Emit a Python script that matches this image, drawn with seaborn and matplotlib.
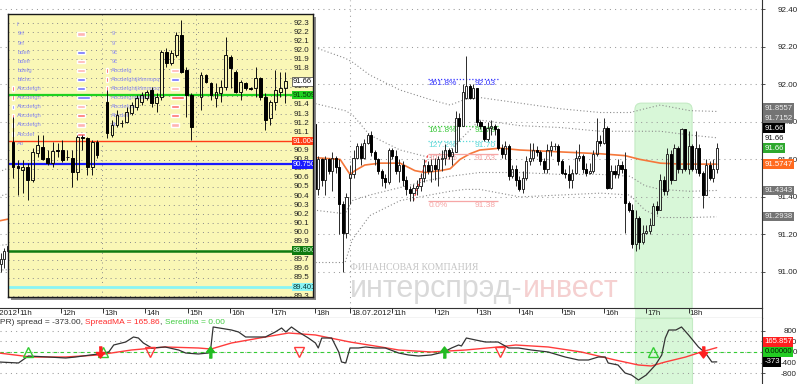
# -*- coding: utf-8 -*-
# Интерспрэд: 5-мин свечи 17-18.07.2012, полосы, фибо, индикатор спреда
import numpy as np
import seaborn as sns
import matplotlib.pyplot as plt
from matplotlib.patches import FancyBboxPatch, Rectangle
from matplotlib.transforms import blended_transform_factory

# ---------------- данные ----------------
# 17.07 начало сессии (видно у левого края)
early_start = "17.07 10:35"
early_open = [91.04, 91.07, 91.11]
early_high = [91.10, 91.13, 91.16]
early_low = [91.00, 91.02, 91.08]
early_close = [91.07, 91.11, 91.14]

# 17.07 конец сессии
late_start = "17.07 18:00"
late_open = [91.79, 91.44, 91.60, 91.49, 91.60, 91.54, 91.61, 91.56, 91.36, 91.21]
late_high = [91.81, 91.62, 91.61, 91.62, 91.61, 91.64, 91.62, 91.60, 91.38, 91.42]
late_low = [91.43, 91.41, 91.46, 91.41, 91.52, 91.43, 91.53, 91.20, 91.00, 91.18]
late_close = [91.44, 91.60, 91.49, 91.60, 91.54, 91.61, 91.56, 91.36, 91.21, 91.40]

# 18.07 вся сессия
day2_start = "18.07 10:00"
day2_open = [91.50, 91.52, 91.61, 91.67, 91.61, 91.69, 91.73, 91.64, 91.60, 91.54, 91.50, 91.48,
             91.65, 91.62, 91.54, 91.57, 91.49, 91.44, 91.42, 91.45, 91.46, 91.50, 91.57, 91.54,
             91.57, 91.55, 91.60, 91.61, 91.65, 91.62, 91.64, 91.82, 91.78, 91.93, 91.99, 91.93,
             91.98, 91.80, 91.78, 91.71, 91.77, 91.78, 91.76, 91.66, 91.63, 91.67, 91.51, 91.55,
             91.49, 91.44, 91.50, 91.59, 91.61, 91.65, 91.64, 91.59, 91.55, 91.65, 91.67, 91.67,
             91.59, 91.53, 91.52, 91.49, 91.53, 91.61, 91.62, 91.55, 91.53, 91.54, 91.63, 91.70,
             91.69, 91.77, 91.45, 91.54, 91.52, 91.57, 91.55, 91.37, 91.33, 91.15, 91.29, 91.16,
             91.21, 91.22, 91.25, 91.35, 91.33, 91.49, 91.43, 91.63, 91.49, 91.66, 91.55, 91.76,
             91.55, 91.67, 91.55, 91.66, 91.53, 91.41, 91.57, 91.50, 91.55]
day2_high = [91.57, 91.65, 91.69, 91.69, 91.71, 91.74, 91.75, 91.65, 91.61, 91.55, 91.52, 91.66,
             91.66, 91.65, 91.60, 91.59, 91.51, 91.46, 91.47, 91.49, 91.53, 91.60, 91.59, 91.60,
             91.61, 91.62, 91.65, 91.68, 91.66, 91.66, 91.86, 91.85, 92.00, 92.15, 92.00, 92.00,
             91.98, 91.81, 91.78, 91.80, 91.81, 91.79, 91.77, 91.68, 91.70, 91.68, 91.57, 91.57,
             91.51, 91.54, 91.62, 91.69, 91.69, 91.67, 91.65, 91.61, 91.68, 91.70, 91.69, 91.68,
             91.60, 91.55, 91.57, 91.55, 91.65, 91.68, 91.63, 91.58, 91.58, 91.65, 91.82, 91.73,
             91.82, 91.78, 91.57, 91.57, 91.60, 91.59, 91.64, 91.38, 91.36, 91.33, 91.30, 91.25,
             91.25, 91.29, 91.37, 91.38, 91.52, 91.51, 91.66, 91.65, 91.68, 91.67, 91.77, 91.76,
             91.75, 91.68, 91.75, 91.68, 91.54, 91.60, 91.59, 91.60, 91.69]
day2_low = [91.36, 91.50, 91.60, 91.57, 91.60, 91.68, 91.62, 91.57, 91.52, 91.46, 91.45, 91.47,
            91.60, 91.52, 91.48, 91.46, 91.41, 91.38, 91.38, 91.41, 91.43, 91.48, 91.52, 91.48,
            91.49, 91.46, 91.54, 91.57, 91.60, 91.57, 91.64, 91.70, 91.78, 91.92, 91.92, 91.92,
            91.78, 91.76, 91.70, 91.70, 91.73, 91.73, 91.65, 91.61, 91.60, 91.49, 91.50, 91.46,
            91.43, 91.42, 91.49, 91.57, 91.59, 91.62, 91.57, 91.53, 91.53, 91.62, 91.65, 91.57,
            91.52, 91.50, 91.45, 91.45, 91.52, 91.59, 91.53, 91.51, 91.52, 91.53, 91.62, 91.67,
            91.68, 91.44, 91.44, 91.50, 91.50, 91.53, 91.21, 91.32, 91.13, 91.11, 91.12, 91.15,
            91.20, 91.20, 91.25, 91.31, 91.33, 91.41, 91.41, 91.47, 91.49, 91.53, 91.53, 91.54,
            91.52, 91.54, 91.53, 91.51, 91.34, 91.41, 91.49, 91.48, 91.53]
day2_close = [91.52, 91.61, 91.67, 91.61, 91.69, 91.73, 91.64, 91.60, 91.54, 91.50, 91.48, 91.65,
              91.62, 91.54, 91.57, 91.49, 91.44, 91.42, 91.45, 91.46, 91.50, 91.57, 91.54, 91.57,
              91.55, 91.60, 91.61, 91.65, 91.62, 91.64, 91.82, 91.78, 91.96, 91.99, 91.93, 91.98,
              91.80, 91.78, 91.71, 91.77, 91.78, 91.76, 91.66, 91.63, 91.67, 91.51, 91.55, 91.49,
              91.44, 91.50, 91.59, 91.61, 91.65, 91.64, 91.59, 91.55, 91.65, 91.67, 91.67, 91.59,
              91.53, 91.52, 91.49, 91.53, 91.61, 91.62, 91.55, 91.53, 91.54, 91.63, 91.70, 91.69,
              91.77, 91.45, 91.54, 91.52, 91.57, 91.55, 91.37, 91.33, 91.15, 91.29, 91.16, 91.21,
              91.22, 91.25, 91.35, 91.33, 91.49, 91.43, 91.63, 91.49, 91.66, 91.55, 91.76, 91.55,
              91.67, 91.55, 91.66, 91.53, 91.41, 91.57, 91.50, 91.55, 91.66]

# средняя и полосы
price_ma_time = ["17.07 10:30", "17.07 17:58", "17.07 18:36", "18.07 10:00", "18.07 10:07", "18.07 10:21",
                 "18.07 10:43", "18.07 11:11", "18.07 11:32", "18.07 11:46", "18.07 12:08", "18.07 12:22",
                 "18.07 12:36", "18.07 12:50", "18.07 13:04", "18.07 13:33", "18.07 14:01", "18.07 14:58",
                 "18.07 15:55", "18.07 16:30", "18.07 16:51", "18.07 17:20", "18.07 17:48", "18.07 18:40"]
price_ma = [91.27, 91.61, 91.60, 91.52, 91.54, 91.57, 91.58, 91.58, 91.54, 91.53, 91.54, 91.55,
            91.60, 91.63, 91.65, 91.66, 91.65, 91.64, 91.63, 91.62, 91.60, 91.58, 91.575, 91.5747]
band_time = ["17.07 10:30", "17.07 17:58", "17.07 18:43", "18.07 10:03", "18.07 10:28", "18.07 11:11",
             "18.07 11:53", "18.07 12:22", "18.07 12:43", "18.07 13:04", "18.07 14:01", "18.07 14:58",
             "18.07 15:55", "18.07 16:37", "18.07 16:58", "18.07 17:20", "18.07 18:02", "18.07 18:40"]
band_up2 = [91.53, 92.20, 92.14, 92.12, 92.05, 91.97, 91.92, 91.89, 91.92, 91.93, 91.90, 91.87,
            91.85, 91.85, 91.87, 91.89, 91.86, 91.8557]
band_up1 = [91.40, 91.90, 91.86, 91.84, 91.73, 91.65, 91.61, 91.65, 91.73, 91.81, 91.78, 91.77,
            91.75, 91.75, 91.75, 91.75, 91.73, 91.7152]
band_dn1 = [91.14, 91.33, 91.31, 91.38, 91.41, 91.45, 91.49, 91.51, 91.52, 91.53, 91.53, 91.52,
            91.52, 91.51, 91.46, 91.44, 91.43, 91.4343]
band_dn2 = [91.01, 91.05, 91.05, 91.17, 91.30, 91.38, 91.41, 91.43, 91.44, 91.44, 91.40, 91.41,
            91.42, 91.41, 91.33, 91.29, 91.29, 91.2938]

# фибоначчи
fib_start, fib_end, fib_anchor = "18.07 11:51", "18.07 13:30", "18.07 11:30"
fib_pct = ["261.8%", "161.8%", "127.2%", "100.0%", "0.0%"]
fib_price = [92.03, 91.78, 91.70, 91.63, 91.38]
fib_color = ["#3838ff", "#3cc83c", "#5cd8d8", "#f6a6a6", "#f6a6a6"]
fib_style = [(0, (1, 1.5)), (0, (1, 1.5)), (0, (1, 1.5)), "-", "-"]

# зеленая зона
hl_start, hl_end, hl_top = "18.07 16:44", "18.07 18:05", 91.90

# метки справа
right_val = [91.2938, 91.4343, 91.5747, 91.66, 91.66, 91.66, 91.7152, 91.8557]
right_txt = ["91.2938", "91.4343", "91.5747", "91.66", "91.66", "91.66", "91.7152", "91.8557"]
right_fc = ["#747474", "#747474", "#ff6a1f", "#2ea82e", "none", "#000000", "#747474", "#747474"]
right_tc = ["#eeeeee", "#eeeeee", "white", "white", "#111111", "white", "#eeeeee", "#eeeeee"]
price_ticks = [91.0, 91.2, 91.4, 91.6, 91.8, 92.0, 92.2, 92.4]

tick_time = ["17.07 10:00", "17.07 11:00", "17.07 12:00", "17.07 13:00", "17.07 14:00", "17.07 15:00",
             "17.07 16:00", "17.07 17:00", "17.07 18:00", "18.07 10:00", "18.07 11:00", "18.07 12:00",
             "18.07 13:00", "18.07 14:00", "18.07 15:00", "18.07 16:00", "18.07 17:00", "18.07 18:00"]
tick_text = ["17.07.2012", "11h", "12h", "13h", "14h", "15h", "16h", "17h", "18h",
             "18.07.2012", "11h", "12h", "13h", "14h", "15h", "16h", "17h", "18h"]

# индикатор спреда
spread_time = ["17.07 10:32", "17.07 11:00", "17.07 11:14", "17.07 11:42", "17.07 12:07", "17.07 12:21",
               "17.07 12:53", "17.07 13:08", "17.07 13:15", "17.07 13:32", "17.07 13:43", "17.07 13:50",
               "17.07 13:57", "17.07 14:09", "17.07 14:28", "17.07 14:47", "17.07 14:57", "17.07 15:15",
               "17.07 15:29", "17.07 15:32", "17.07 15:36", "17.07 16:02", "17.07 16:12", "17.07 16:22",
               "17.07 16:50", "17.07 17:04", "17.07 17:13", "17.07 17:19", "17.07 17:27", "17.07 17:37",
               "17.07 17:51", "17.07 18:01", "17.07 18:05", "17.07 18:10", "17.07 18:24", "17.07 18:34",
               "17.07 18:38", "17.07 18:44", "18.07 10:00", "18.07 10:12", "18.07 10:22", "18.07 10:36",
               "18.07 10:50", "18.07 11:09", "18.07 11:23", "18.07 11:37", "18.07 11:55", "18.07 12:13",
               "18.07 12:24", "18.07 12:34", "18.07 12:38", "18.07 12:45", "18.07 12:58", "18.07 13:12",
               "18.07 13:30", "18.07 13:45", "18.07 13:59", "18.07 14:17", "18.07 14:41", "18.07 15:05",
               "18.07 15:24", "18.07 15:38", "18.07 15:52", "18.07 16:02", "18.07 16:06", "18.07 16:20",
               "18.07 16:30", "18.07 16:39", "18.07 16:49", "18.07 17:00", "18.07 17:13", "18.07 17:22",
               "18.07 17:27", "18.07 17:32", "18.07 17:42", "18.07 17:50", "18.07 18:00", "18.07 18:14",
               "18.07 18:24", "18.07 18:33", "18.07 18:40"]
spread_val = [-377, -415, -151, -189, -226, -189, -75, 0, 264, 377, 566, 528, 340, 151, 189, 75, -38, -75,
              -38, 0, 944, 830, 755, 566, 566, 755, 906, 755, 944, 755, 528, 340, 151, 528, 528, 0,
              -377, -415, 151, 151, 189, 151, 151, -38, -113, -151, -113, 0, 151, 264, 226, 528, 453, 377,
              377, 151, 151, 75, 0, -189, -302, -302, -189, -189, -415, -491, -793, -868, -1057, -868, -491,
              -113, 528, 830, 830, 944, 642, 189, -38, -377, -373]
spread_ma_time = ["17.07 10:32", "17.07 11:18", "17.07 12:07", "17.07 12:53", "17.07 13:40", "17.07 14:28",
                  "17.07 15:15", "17.07 15:33", "17.07 16:02", "17.07 16:50", "17.07 17:23", "17.07 18:01",
                  "18.07 10:00", "18.07 10:44", "18.07 11:09", "18.07 11:55", "18.07 12:44", "18.07 13:30",
                  "18.07 13:55", "18.07 14:41", "18.07 15:28", "18.07 16:16", "18.07 16:49", "18.07 17:07",
                  "18.07 17:27", "18.07 17:56", "18.07 18:18", "18.07 18:40"]
spread_ma_val = [-38, -189, -189, -113, 75, 189, 151, 113, 340, 566, 717, 642, 377, 189, 75, 0, 75, 189,
                 264, 189, 0, -302, -491, -528, -377, -189, 0, 165.857]
seredina = 0.0
tri_up_time = ["17.07 11:14", "17.07 13:00", "18.07 17:10"]
tri_dn_time = ["17.07 14:07", "17.07 17:37", "18.07 13:33"]
arr_up_time = ["17.07 15:32", "18.07 12:13"]
arr_dn_time = ["17.07 12:56", "18.07 18:21"]
sub_ticks = [-800, -400, 0, 400, 800]

# вставка (желтое окно)
in_open = [90.99, 90.73, 90.69, 90.72, 90.58, 90.87, 90.94, 90.82, 90.76, 90.90, 90.90, 90.83, 90.82,
           90.66, 91.05, 91.04, 90.72, 90.99, None,
           91.43, 91.07, 91.18, 91.20, 91.21, 91.31, 91.38, 91.43, 91.48, 91.56, 91.42, 91.49, 91.98,
           91.86, 91.95, 92.17, 91.78, 91.51, None,
           91.49, 91.73, 91.64, 91.48, 91.53, 91.60, 91.93, 91.76, 91.54, 91.64, 91.59, 91.59, 91.70,
           91.49, 91.26, 91.43, 91.54, 91.59]
in_high = [91.27, 90.80, 90.80, 90.76, 90.93, 91.07, 91.07, 90.91, 90.99, 90.98, 91.01, 90.90, 90.90,
           91.07, 91.07, 91.05, 91.01, 91.01, None,
           91.56, 91.23, 91.34, 91.23, 91.38, 91.43, 91.51, 91.54, 91.56, 91.60, 91.53, 92.00, 92.03,
           92.00, 92.20, 92.33, 91.82, 91.53, None,
           91.76, 91.74, 91.65, 91.64, 91.67, 92.15, 91.95, 91.78, 91.67, 91.65, 91.60, 91.82, 91.71,
           91.53, 91.45, 91.78, 91.76, 91.76]
in_low = [90.60, 90.41, 90.43, 90.36, 90.55, 90.83, 90.80, 90.74, 90.72, 90.83, 90.77, 90.80, 90.50,
          90.58, 90.90, 90.63, 90.63, 90.82, None,
          91.04, 91.05, 91.16, 91.16, 91.20, 91.29, 91.35, 91.40, 91.45, 91.38, 91.32, 91.45, 91.82,
          91.84, 91.93, 91.75, 91.27, 91.02, None,
          91.35, 91.64, 91.45, 91.38, 91.43, 91.56, 91.59, 91.53, 91.45, 91.56, 91.56, 91.49, 91.45,
          91.13, 91.18, 91.35, 91.49, 91.42]
in_close = [90.72, 90.71, 90.72, 90.58, 90.88, 90.96, 90.81, 90.76, 90.89, 90.89, 90.80, 90.83, 90.66,
            91.05, 91.04, 90.72, 90.99, 90.85, None,
            91.09, 91.18, 91.29, 91.20, 91.32, 91.40, 91.48, 91.51, 91.54, 91.42, 91.49, 91.98, 91.86,
            91.97, 92.17, 91.76, 91.51, 91.16, None,
            91.73, 91.65, 91.51, 91.54, 91.60, 91.95, 91.81, 91.54, 91.65, 91.59, 91.58, 91.70, 91.49,
            91.24, 91.43, 91.56, 91.59, 91.66]
in_lvl_price = [91.509, 91.004, 90.750, 89.800, 89.401]
in_lvl_color = ["#1fd11f", "#ff3d17", "#1a1aff", "#0f7a0f", "#8af5f5"]
in_lvl_width = [1.6, 1.0, 1.6, 1.8, 2.0]
in_lvl_tc = ["#0a3a0a", "white", "white", "#c8f0c8", "#0a3a3a"]
row_level = [92.3, 92.2, 92.1, 92.0, 91.9, 91.8, 91.7, 91.6, 91.5, 91.4, 91.3, 91.2, 91.1, 91.0]
row_name1 = ["f", "9rf", "9rf", "bdefr", "bdefr", "bdefg", "bfchc", "Abcdefgh", "Abcdefgh",
             "Abcdefgh", "Abcdefgh", "Abcdefgh", "Abcdef", "Ab"]
row_flag1 = ["", "", "", "", "", "", "", "r", "r", "b", "r", "r", "r", "r"]
row_bar2 = ["", "p", "", "b", "p", "p", "b", "b", "B", "p", "r", "p", "r", ""]
row_name3 = ["", "9", "9", "9c", "9c", "Abcdefg", "Abcdefghijklmnopq", "Abcdefghijklmnopq",
             "Abcdefghijklmnop", "Abcdefgh", "Abcdef", "Ab", "", ""]
row_flag3 = ["", "", "", "", "", "r", "r", "r", "b", "", "", "", "", ""]
row_bar4 = ["", "", "", "", "", "p", "b", "p", "R", "r", "r", "p", "", ""]

# ---------------- оформление ----------------
DAY_LEN = 8 + 50 / 60       # сессия 10:00 - 18:50


def th(stamp):
    # торговые часы от 17.07 10:00
    day, hm = stamp.split()
    h, m = (int(v) for v in hm.split(":"))
    return (0 if day == "17.07" else DAY_LEN) + h - 10 + m / 60


def candles(a, t, o, h, l, c, width, edge, lw, z=3):
    o, h, l, c = (np.array(v, dtype=float) for v in (o, h, l, c))
    t = np.asarray(t, dtype=float)
    ok = ~np.isnan(c)
    t, o, h, l, c = t[ok], o[ok], h[ok], l[ok], c[ok]
    top, bot = np.maximum(o, c), np.minimum(o, c)
    a.vlines(t, top, h, color=edge, lw=lw, zorder=z)
    a.vlines(t, l, bot, color=edge, lw=lw, zorder=z)
    up = c >= o
    a.bar(t[up], (top - bot)[up], bottom=bot[up], width=width, facecolor="none",
          edgecolor=edge, linewidth=lw, zorder=z)
    a.bar(t[~up], (top - bot)[~up], bottom=bot[~up], width=width, facecolor="black",
          edgecolor="black", linewidth=lw, zorder=z)


def stack(values, gap):
    pos = []
    for v in values:
        pos.append(v if not pos else max(v, pos[-1] + gap))
    return pos


sns.set_style("white")
plt.rcParams["font.family"] = ["Liberation Sans", "DejaVu Sans"]
NARROW = ["Liberation Sans Narrow", "Liberation Sans", "DejaVu Sans"]
DOT = (0, (1, 4))
GRID = "#9a9a9a"
HL_FC, HL_EC = "#d8f7d8", "#c4ebc4"

W, H = 800, 384
PX_H = 42.32     # px на торговый час
PX_P = 187.5     # px на 1.00 цены
fig = plt.figure(figsize=(W / 100, H / 100), dpi=100)
fig.patch.set_facecolor("white")


def px_axes(x0, y0, x1, y1, z):
    return fig.add_axes([x0 / W, 1 - y1 / H, (x1 - x0) / W, (y1 - y0) / H], zorder=z)


ax = px_axes(0, 0, 762, 308, 1)
ax_t = px_axes(0, 308, 762, 318, 1)
ax_s = px_axes(0, 318, 762, 384, 1)
ax_in = px_axes(8, 14, 313, 297, 10)

t_left = th("18.07 10:00") - 350 / PX_H
for a in (ax, ax_t, ax_s):
    a.set_xlim(t_left, t_left + 762 / PX_H)
    a.set_facecolor("white")
    for s in ("left", "top", "bottom"):
        a.spines[s].set_visible(False)
    a.spines["right"].set_color("#333333")
    a.spines["right"].set_linewidth(0.8)
    a.set_xticks([])
for s in ("top", "bottom"):
    ax_t.spines[s].set_visible(True)
    ax_t.spines[s].set_color("#333333")
    ax_t.spines[s].set_linewidth(0.8)

hl0, hl1 = th(hl_start), th(hl_end)

# ---- основной график ----
ax.set_ylim(92.4501 - 308 / PX_P, 92.4501)
ax.yaxis.tick_right()
ax.set_yticks(price_ticks)
ax.set_yticklabels([f"{v:.2f}" for v in price_ticks], ha="right")
ax.tick_params(axis="y", length=2.2, width=0.6, pad=23.8, labelsize=5.8, color="#333333",
               labelcolor="#222222")
ax.set_axisbelow(True)
ax.grid(axis="y", color=GRID, lw=0.75, ls=DOT)
ax.axvline(th("18.07 10:00"), color=GRID, lw=0.75, ls=DOT, zorder=0.5)

ax.add_patch(FancyBboxPatch((hl0, 90.0), hl1 - hl0, hl_top - 90.0,
                            boxstyle="round,pad=0,rounding_size=0.15", mutation_aspect=PX_H / PX_P,
                            fc=HL_FC, ec=HL_EC, lw=0.8, zorder=0.2))

# водяной знак
ax.annotate("ФИНАНСОВАЯ КОМПАНИЯ", xy=(350 / W, 1 - 270 / H), xycoords="figure fraction",
            family=["Liberation Serif", "DejaVu Serif"], fontsize=7, color="#c4c4c4",
            va="baseline", ha="left", zorder=0.4)
wm = ax.annotate("интерспрэд-", xy=(350 / W, 1 - 304 / H), xycoords="figure fraction", fontsize=22,
                 family=NARROW, color="#d9d9d9", va="bottom", ha="left", zorder=0.4)
ax.annotate("инвест", xy=(1, 0), xycoords=wm, fontsize=22, family=NARROW, color="#f5d0d0",
            va="bottom", ha="left", zorder=0.4)

bt = [th(s) for s in band_time]
for band in (band_up2, band_up1, band_dn1, band_dn2):
    sns.lineplot(x=bt, y=band, ax=ax, color="#8c8c8c", linewidth=0.8, linestyle=(0, (1, 2)), zorder=2)
sns.lineplot(x=[th(s) for s in price_ma_time], y=price_ma, ax=ax, color="#f5773a", linewidth=1.2, zorder=2.2)

for start, o, h, l, c in ((early_start, early_open, early_high, early_low, early_close),
                          (late_start, late_open, late_high, late_low, late_close),
                          (day2_start, day2_open, day2_high, day2_low, day2_close)):
    tt = th(start) + np.arange(len(c)) / 12
    candles(ax, tt, o, h, l, c, width=0.05, edge="#2a2a2a", lw=0.7)

# фибо
f0, f1 = th(fib_start), th(fib_end)
ax.plot([th(fib_anchor), f0], [fib_price[-1], fib_price[-2]], color="#ff4a4a", lw=0.9,
        ls=(0, (2, 2)), zorder=2.5)
for pct, p, col, ls in zip(fib_pct, fib_price, fib_color, fib_style):
    ax.hlines(p, f0, f1, colors=col, lw=0.9, linestyles=ls, zorder=2.5)
    ax.text(f0, p - 0.008, pct, color=col, fontsize=6, va="top", ha="left", zorder=2.6)
    ax.text(f1 - 0.06, p - 0.008, f"{p:.2f}", color=col, fontsize=6, va="top", ha="right", zorder=2.6)

# метки справа
tr = blended_transform_factory(ax.transAxes, ax.transData)
for pos, txt, fc, tc in zip(stack(right_val, 10 / PX_P), right_txt, right_fc, right_tc):
    ax.text(1.003, pos, txt, transform=tr, fontsize=5.6, color=tc, va="center", ha="left",
            bbox=dict(boxstyle="square,pad=0.15", fc=fc, ec="none"), clip_on=False, zorder=6)

# ---- шкала времени ----
ax_t.set_ylim(0, 1)
ax_t.set_yticks([])
ax_t.axvspan(hl0, hl1, fc=HL_FC, ec="none", zorder=0.2)
tk = [th(s) for s in tick_time]
ax_t.vlines(tk, 0.55, 1.0, color="#333333", lw=0.7)
for tt, txt in zip(tk, tick_text):
    ax_t.text(tt + 0.03, 0.42, txt, fontsize=5.8, va="center", ha="left", color="#222222", clip_on=True)

# ---- индикатор ----
ax_s.set_ylim(-1208, 1283)
ax_s.yaxis.tick_right()
ax_s.set_yticks(sub_ticks)
ax_s.set_yticklabels([f"{v:.0f}" for v in sub_ticks], ha="right")
ax_s.tick_params(axis="y", length=2.2, width=0.6, pad=23.0, labelsize=5.8, color="#333333",
                 labelcolor="#222222")
ax_s.set_axisbelow(True)
ax_s.grid(axis="y", color=GRID, lw=0.75, ls=DOT)
ax_s.axvspan(hl0, hl1, fc=HL_FC, ec=HL_EC, lw=0.8, zorder=0.2)
ax_s.axhline(seredina, color="#33cc33", lw=0.8, ls=(0, (3, 3)), zorder=1)
sns.lineplot(x=[th(s) for s in spread_ma_time], y=spread_ma_val, ax=ax_s, color="#ff3b3b",
             linewidth=1.0, zorder=2)
sns.lineplot(x=[th(s) for s in spread_time], y=spread_val, ax=ax_s, color="#333333",
             linewidth=0.9, zorder=2.1)
ax_s.plot([th(s) for s in tri_up_time], [seredina] * len(tri_up_time), ls="none", marker="^", ms=6.5,
          mfc="none", mec="#33cc33", mew=1.0, zorder=3)
ax_s.plot([th(s) for s in tri_dn_time], [seredina] * len(tri_dn_time), ls="none", marker="v", ms=6.5,
          mfc="none", mec="#ff3b3b", mew=1.0, zorder=3)
ARROW = [(-0.12, 0.5), (0.12, 0.5), (0.12, 0.0), (0.38, 0.0), (0.0, -0.5), (-0.38, 0.0), (-0.12, 0.0)]
ax_s.plot([th(s) for s in arr_dn_time], [seredina] * len(arr_dn_time), ls="none", marker=ARROW, ms=8,
          color="#ff2020", zorder=3.5)
ax_s.plot([th(s) for s in arr_up_time], [seredina] * len(arr_up_time), ls="none",
          marker=[(x, -y) for x, y in ARROW], ms=8, color="#22bb22", zorder=3.5)

t1 = ax_s.text(0.0, 0.985, f"PR) spread = {spread_val[-1]:.2f}, ", transform=ax_s.transAxes,
               fontsize=6, color="#333333", va="top", ha="left")
t2 = ax_s.annotate(f"SpreadMA = {spread_ma_val[-1]:.2f}", xy=(1, 0), xycoords=t1, fontsize=6,
                   color="#ff2a2a", va="bottom", ha="left")
t3 = ax_s.annotate(", ", xy=(1, 0), xycoords=t2, fontsize=6, color="#333333", va="bottom", ha="left")
ax_s.annotate(f"Seredina = {seredina:.2f}", xy=(1, 0), xycoords=t3, fontsize=6, color="#44cc44",
              va="bottom", ha="left")

trs = blended_transform_factory(ax_s.transAxes, ax_s.transData)
sub_val = [spread_val[-1], seredina, spread_ma_val[-1]]
sub_txt = [f"{spread_val[-1]:.0f}", f"{seredina:.5f}", f"{spread_ma_val[-1]:.3f}"]
for pos, txt, fc, tc in zip(stack(sub_val, 10 * 2491 / 66), sub_txt,
                            ["#000000", "#22cc22", "#ff1f1f"], ["white", "#002200", "white"]):
    ax_s.text(1.003, pos, txt, transform=trs, fontsize=5.6, color=tc, va="center", ha="left",
              bbox=dict(boxstyle="square,pad=0.15", fc=fc, ec="none"), clip_on=False, zorder=6)

# ---- вставка ----
fig.add_artist(Rectangle((11 / W, 1 - 300 / H), 305 / W, 283 / H, transform=fig.transFigure,
                         fc="#8a8a8a", ec="none", zorder=9))
SLOT = 4.95
in_right = -1.0 + 284 / SLOT
ax_in.set_facecolor("#faf7b6")
ax_in.set_xlim(-1.0, -1.0 + 305 / SLOT)
ax_in.set_ylim(92.3 - 274 / 91.07, 92.3 + 9 / 91.07)
ax_in.set_xticks([])
ax_in.set_yticks([])
for s in ax_in.spines.values():
    s.set_color("#1a1a1a")
    s.set_linewidth(1.0)
in_levels = np.round(np.arange(89.3, 92.45, 0.1), 1)
ax_in.hlines(in_levels, -1.0, in_right, colors="#8a8a8a", lw=0.7, linestyles=DOT, zorder=1)
for k, c in enumerate(in_close):
    if c is None:
        ax_in.axvline(k, color="#8a8a8a", lw=0.7, ls=DOT, zorder=1)
boxed = in_lvl_price + [in_close[-1]]
for lv in in_levels:
    if min(abs(lv - b) for b in boxed) < 0.045:
        continue   # под цветной меткой
    ax_in.text(in_right + 0.25, lv, f"{lv:.1f}", fontsize=5.8, family=NARROW, va="center", ha="left",
               color="#222222", clip_on=True, zorder=2)

BAR = {"p": ("#ffb3b3", 1.6), "b": ("#7070ff", 1.6), "B": ("#7070ff", 2.6),
       "r": ("#ff7070", 1.6), "R": ("#ff5050", 2.6)}
FLAG = {"r": "#ff3030", "b": "#6666ff"}
for lv, n1, f1_, b2, n3, f3, b4 in zip(row_level, row_name1, row_flag1, row_bar2, row_name3,
                                        row_flag3, row_bar4):
    yv = lv - 0.02
    for xs, name in ((0.9, n1), (19.9, n3)):
        if name:
            ax_in.text(xs, yv, name, fontsize=4.2, color="#8c8cf0", va="center", ha="left", zorder=2)
    for xs, fl in ((0.0, f1_), (19.0, f3)):
        if fl:
            ax_in.bar(xs, 0.05, bottom=yv - 0.025, width=0.35, color=FLAG[fl], zorder=2)
    for xs, bc in ((12.9, b2), (31.9, b4)):
        if bc:
            col, wdt = BAR[bc]
            ax_in.barh(yv, wdt, left=xs, height=0.035, color=col, zorder=2)

for p, col, lw, tc in zip(in_lvl_price, in_lvl_color, in_lvl_width, in_lvl_tc):
    ax_in.hlines(p, -1.0, in_right, colors=col, lw=lw, zorder=2.5)
    ax_in.text(in_right + 0.1, p, f"{p:.3f}", fontsize=5.4, family=NARROW, color=tc, va="center",
               ha="left", bbox=dict(boxstyle="square,pad=0.12", fc=col, ec="none"), clip_on=True, zorder=4)
ax_in.text(in_right + 0.1, in_close[-1], f"{in_close[-1]:.2f}", fontsize=5.4, family=NARROW, color="#111111",
           va="center", ha="left", bbox=dict(boxstyle="square,pad=0.12", fc="white", ec="#333333", lw=0.5),
           clip_on=True, zorder=4)

candles(ax_in, np.arange(len(in_close)), in_open, in_high, in_low, in_close, width=0.55,
        edge="#111111", lw=0.7)

fig.savefig("out.png", dpi=100, facecolor="white")
